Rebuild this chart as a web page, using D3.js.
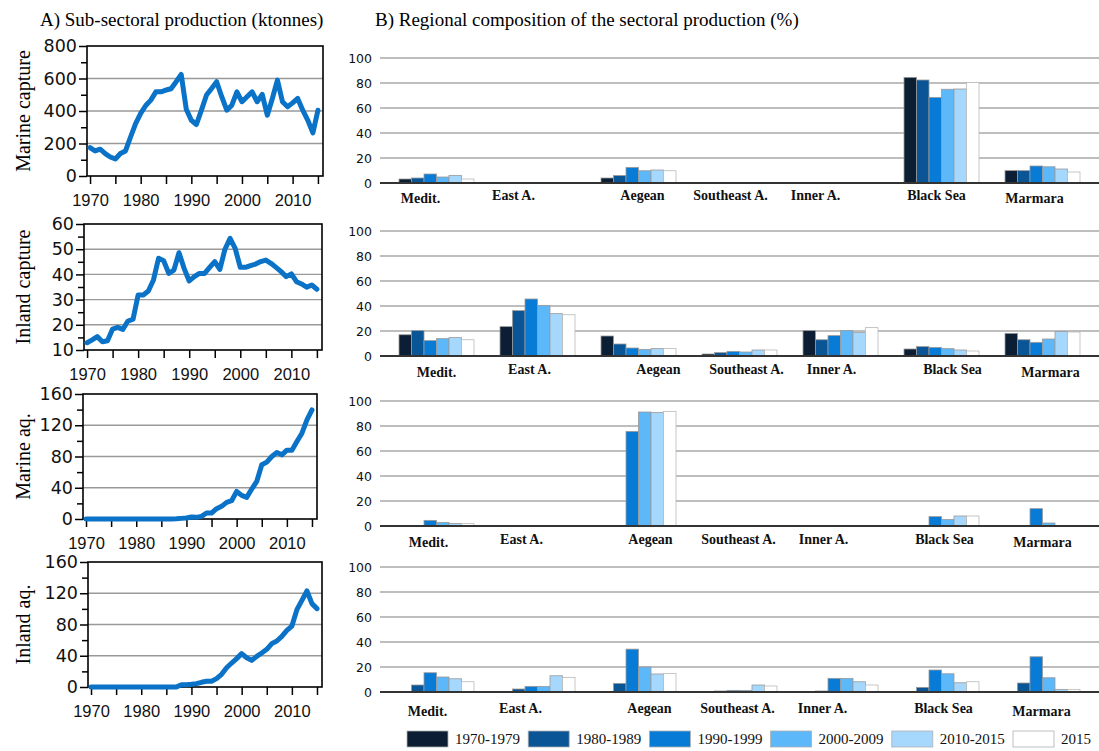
<!DOCTYPE html>
<html>
<head>
<meta charset="utf-8">
<script src="https://cdn.jsdelivr.net/npm/d3@7"></script>
<style>
  body { margin: 0; background: #fff; }
  svg { display: block; }
</style>
</head>
<body>
<svg id="chart" width="1099" height="751"></svg>
<script>
// ---- data: annual sub-sectoral production (ktonnes), 1970-2015
const years = d3.range(1970, 2016);
const marineCapture = [175, 154, 165, 138, 117, 105, 138, 154, 240, 323,
    385, 434, 467, 518, 518, 529, 537, 580, 625, 411,
    343, 317, 405, 498, 539, 580, 488, 405, 436, 518,
    457, 488, 518, 457, 502, 374, 477, 590, 457, 426,
    450, 477, 405, 343, 265, 405];
const inlandCapture = [12.9, 14, 15.3, 13.3, 13.7, 18.3, 19, 18.2, 21.5, 22.2,
    31.8, 31.8, 33.4, 37.8, 46.4, 45.4, 40.4, 41.7, 48.6, 42.4,
    37.4, 39.1, 40.4, 40.4, 42.8, 45.1, 42, 50, 54.3, 50.3,
    42.8, 42.8, 43.5, 44.1, 45.1, 45.7, 44.4, 42.8, 41.1, 39.1,
    40.2, 37.1, 36.2, 34.9, 35.8, 34.1];
const marineAq = [0, 0, 0, 0, 0, 0, 0, 0, 0, 0,
    0, 0, 0, 0, 0, 0, 0, 0, 0.3, 0.8,
    1.3, 2.6, 2.1, 3.4, 7.7, 7.7, 13.2, 16.2, 21.3, 23.4,
    35.3, 30.2, 27.7, 38.3, 48.1, 69.4, 72.8, 80, 85.1, 82.1,
    88.1, 88.1, 99.1, 109.8, 126.8, 139.6];
const inlandAq = [0, 0, 0, 0, 0, 0, 0, 0, 0, 0,
    0, 0, 0, 0, 0, 0, 0, 0, 3, 3,
    3.4, 4.3, 6, 7.3, 7.3, 10.7, 16.2, 24.7, 30.7, 36.3,
    42.7, 37.5, 34.1, 39.2, 43.5, 48.2, 55.5, 58.9, 64.8, 72.5,
    78, 99, 110.9, 122.9, 106.7, 100.3];

// ---- data: regional composition (%) by period
const regions = ['Medit.', 'East A.', 'Aegean', 'Southeast A.', 'Inner A.', 'Black Sea', 'Marmara'];
const periods = ['1970-1979', '1980-1989', '1990-1999', '2000-2009', '2010-2015', '2015'];
// one row per region, one value per period
const marineCaptureShare = [
    [3.2, 4, 7.2, 4.8, 6.1, 3.2],
    [0, 0, 0, 0, 0, 0],
    [4, 6, 12.5, 9.8, 10.4, 9.8],
    [0, 0, 0, 0, 0, 0],
    [0, 0, 0, 0, 0, 0],
    [84.5, 82.4, 68.5, 75, 75.2, 80.5],
    [9.9, 9.9, 13.6, 13, 11.2, 8.8]];
const inlandCaptureShare = [
    [17, 20.3, 12.3, 13.9, 14.7, 13],
    [23.5, 36.3, 45.6, 40.3, 33.9, 33],
    [16, 9.6, 6.4, 5.3, 5.9, 5.9],
    [1.6, 2.7, 3.7, 3.2, 4.8, 4.8],
    [20.3, 13, 16.3, 20.3, 18.7, 22.7],
    [5.6, 7.5, 6.9, 5.9, 4.8, 4],
    [18.1, 13, 10.9, 13.6, 19.5, 19.2]];
const marineAqShare = [
    [0, 0, 4.5, 2.9, 2.1, 1.9],
    [0, 0, 0, 0, 0, 0],
    [0, 0, 75.7, 91.2, 90.7, 91.7],
    [0, 0, 0, 0, 0, 0],
    [0, 0, 0, 0, 0, 0],
    [0, 0, 7.5, 5.3, 8, 8],
    [0, 0, 13.9, 2.4, 0.3, 0.3]];
const inlandAqShare = [
    [0, 5.6, 15.4, 12, 10.6, 8.2],
    [0, 2.4, 4.5, 4.5, 13, 11.7],
    [0, 6.9, 34.3, 20, 14.4, 14.9],
    [0, 0.8, 1.3, 1.3, 5.6, 4.8],
    [0, 0.8, 10.9, 10.9, 8.2, 5.6],
    [0, 3.7, 17.6, 14.6, 7.4, 8.2],
    [0, 7.2, 28.2, 11.4, 2.1, 2.1]];
const shareTicks = [0, 20, 40, 60, 80, 100];

const periodColors = ['#0b1e33', '#0a5596', '#087bd6', '#5cb8f8', '#a6d8fd', '#ffffff'];
const lineBlue = '#0a72c7';
const serif = '"Liberation Serif", "Times New Roman", serif';
const sans = '"Liberation Sans", Arial, sans-serif';

const svg = d3.select('#chart');

// ---- titles
svg.append('text')
    .attr('x', 40).attr('y', 26)
    .style('font-family', serif).style('font-size', '19px')
    .text('A) Sub-sectoral production (ktonnes)');
svg.append('text')
    .attr('x', 375).attr('y', 26)
    .style('font-family', serif).style('font-size', '19px')
    .text('B) Regional composition of the sectoral production (%)');

// ---- A: line panels
const linePanels = [
    { name: 'Marine capture', values: marineCapture, yMin: 0, yMax: 800, step: 200,
      box: { left: 87, right: 323, top: 46, bottom: 176 } },
    { name: 'Inland capture', values: inlandCapture, yMin: 10, yMax: 60, step: 10,
      box: { left: 84, right: 322, top: 224, bottom: 350 } },
    { name: 'Marine aq.', values: marineAq, yMin: 0, yMax: 160, step: 40,
      box: { left: 83, right: 317, top: 394, bottom: 519 } },
    { name: 'Inland aq.', values: inlandAq, yMin: 0, yMax: 160, step: 40,
      box: { left: 88, right: 322, top: 562, bottom: 687 } },
];

linePanels.forEach((p) => {
    const b = p.box;
    const x = d3.scaleLinear().domain([1969.4, 2016]).range([b.left, b.right]);
    const y = d3.scaleLinear().domain([p.yMin, p.yMax]).range([b.bottom, b.top]);
    const g = svg.append('g').attr('class', 'line-panel');

    const major = d3.range(p.yMin, p.yMax + p.step / 2, p.step);
    const minor = d3.range(p.yMin + p.step / 2, p.yMax, p.step);

    // grid
    g.selectAll('.grid')
        .data(major.filter((v) => v > p.yMin && v < p.yMax))
        .enter().append('line')
        .attr('x1', b.left).attr('x2', b.right)
        .attr('y1', y).attr('y2', y)
        .attr('stroke', '#999').attr('stroke-width', 1.4);

    // y axis
    const yAxis = d3.axisLeft(y).tickValues(major).tickSize(8).tickPadding(2).tickFormat(d3.format('d'));
    const ya = g.append('g').attr('transform', `translate(${b.left},0)`).call(yAxis);
    ya.select('.domain').remove();
    ya.selectAll('line').attr('stroke', '#000').attr('stroke-width', 1.5);
    ya.selectAll('text')
        .style('font-family', '"DejaVu Sans", sans-serif').style('font-size', '17.5px').attr('fill', '#111');
    const ym = g.append('g').attr('transform', `translate(${b.left},0)`)
        .call(d3.axisLeft(y).tickValues(minor).tickSize(6).tickFormat(''));
    ym.select('.domain').remove();
    ym.selectAll('line').attr('stroke', '#000').attr('stroke-width', 1.5);

    // x axis
    const xAxis = d3.axisBottom(x).tickValues(d3.range(1970, 2016, 5)).tickSize(8).tickPadding(10)
        .tickFormat((d) => (d % 10 === 0 ? d : ''));
    const xa = g.append('g').attr('transform', `translate(0,${b.bottom})`).call(xAxis);
    xa.select('.domain').remove();
    xa.selectAll('line').attr('stroke', '#000').attr('stroke-width', 1.5);
    xa.selectAll('text')
        .style('font-family', sans).style('font-size', '16.5px').attr('fill', '#111');

    // frame
    g.append('rect')
        .attr('x', b.left).attr('y', b.top)
        .attr('width', b.right - b.left).attr('height', b.bottom - b.top)
        .attr('fill', 'none').attr('stroke', '#000').attr('stroke-width', 1.6);

    // series line
    const line = d3.line().x((d, i) => x(years[i])).y((d) => y(d));
    g.append('path')
        .datum(p.values)
        .attr('d', line)
        .attr('fill', 'none')
        .attr('stroke', lineBlue)
        .attr('stroke-width', 5)
        .attr('stroke-linejoin', 'round')
        .attr('stroke-linecap', 'round');

    // y title
    g.append('text')
        .attr('transform', `translate(30,${(b.top + b.bottom) / 2}) rotate(-90)`)
        .attr('text-anchor', 'middle')
        .style('font-family', serif).style('font-size', '20px')
        .text(p.name);
});

// ---- B: bar panels
const barPanels = [
    { shares: marineCaptureShare, base: 183, shift: -12, labelDy: 12 },
    { shares: inlandCaptureShare, base: 356, shift: 4, labelDy: 13 },
    { shares: marineAqShare, base: 526, shift: -4, labelDy: 13 },
    { shares: inlandAqShare, base: 692, shift: -5, labelDy: 16 },
];
// hand-placed category labels in the source figure
const labelNudge = [-4, -12, 16, 3, -13, 7, 4];
const labelDrop = [3, 0, 0, 0, 0, 0, 3];

const xRegion = d3.scaleBand().domain(regions).range([386, 1093]);
const xPeriod = d3.scaleBand().domain(periods).range([13, 88]);

barPanels.forEach((p) => {
    const y = d3.scaleLinear().domain([0, 100]).range([p.base, p.base - 125]);
    const g = svg.append('g').attr('class', 'bar-panel');

    g.selectAll('.grid')
        .data(shareTicks.filter((v) => v > 0))
        .enter().append('line')
        .attr('x1', 380).attr('x2', 1099)
        .attr('y1', y).attr('y2', y)
        .attr('stroke', '#a8a8a8').attr('stroke-width', 1.5);

    const ya = g.append('g').attr('transform', 'translate(380,0)')
        .call(d3.axisLeft(y).tickValues(shareTicks).tickSize(0).tickPadding(8));
    ya.select('.domain').remove();
    ya.selectAll('text')
        .style('font-family', '"DejaVu Sans", sans-serif').style('font-size', '12.5px').attr('fill', '#111');

    const groups = g.selectAll('.region')
        .data(regions.map((r, i) => ({ region: r, values: p.shares[i] })))
        .enter().append('g')
        .attr('transform', (d) => `translate(${xRegion(d.region)},0)`);

    groups.selectAll('rect')
        .data((d) => d.values.map((v, j) => ({ period: periods[j], value: v, j })))
        .enter().append('rect')
        .filter((d) => d.value > 0)
        .attr('x', (d) => xPeriod(d.period))
        .attr('width', xPeriod.bandwidth())
        .attr('y', (d) => y(d.value))
        .attr('height', (d) => y(0) - y(d.value))
        .attr('fill', (d) => periodColors[d.j])
        .attr('stroke', (d) => (d.j === 5 ? '#b8b8b8' : '#9a9a9a'))
        .attr('stroke-width', 0.8);

    g.append('line')
        .attr('x1', 380).attr('x2', 1099)
        .attr('y1', p.base).attr('y2', p.base)
        .attr('stroke', '#333').attr('stroke-width', 2);

    g.selectAll('.cat')
        .data(regions)
        .enter().append('text')
        .attr('x', (d, i) => xRegion(d) + xRegion.bandwidth() / 2 + p.shift + labelNudge[i])
        .attr('y', (d, i) => p.base + p.labelDy + labelDrop[i] + 5)
        .attr('text-anchor', 'middle')
        .style('font-family', serif).style('font-size', '14px').style('font-weight', 'bold')
        .attr('fill', '#111')
        .text((d) => d);
});

// ---- legend
const legend = svg.append('g').attr('class', 'legend')
    .selectAll('g')
    .data(periods)
    .enter().append('g')
    .attr('transform', (d, i) => `translate(${407 + i * 121.2},731)`);
legend.append('rect')
    .attr('width', 41).attr('height', 16)
    .attr('fill', (d, i) => periodColors[i])
    .attr('stroke', '#b0b0b0').attr('stroke-width', 0.8);
legend.append('text')
    .attr('x', 48).attr('y', 13)
    .style('font-family', serif).style('font-size', '15px')
    .attr('fill', '#111')
    .text((d) => d);
</script>
</body>
</html>
